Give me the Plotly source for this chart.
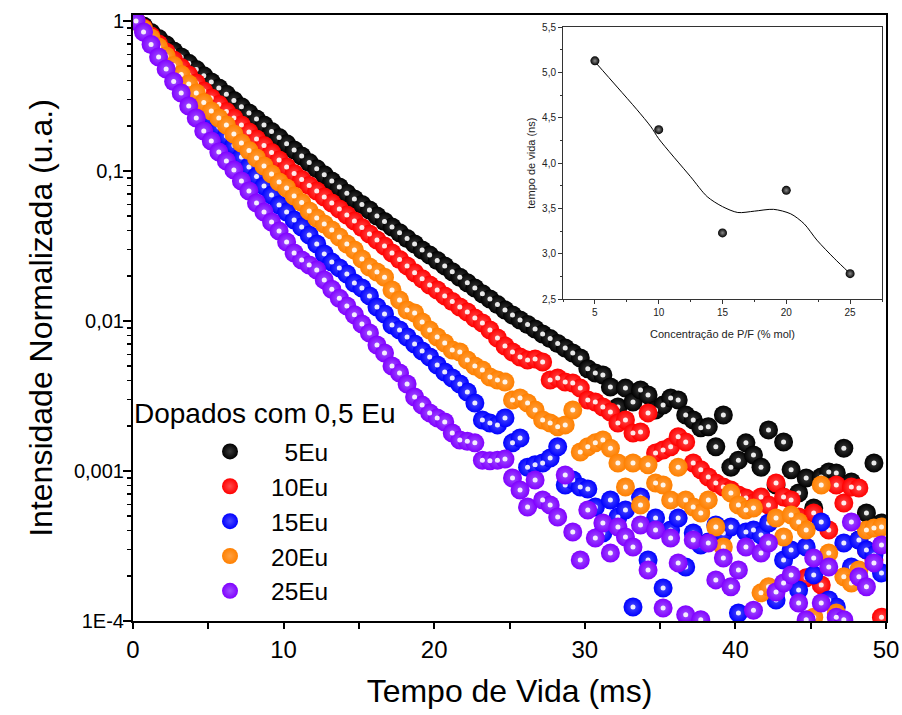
import plotly.graph_objects as go

# ---------------- data ----------------
t_ms = [0.2, 0.7, 1.2, 1.7, 2.2, 2.7, 3.2, 3.7, 4.2, 4.7,
        5.2, 5.7, 6.2, 6.7, 7.2, 7.7, 8.2, 8.7, 9.2, 9.7,
        10.2, 10.7, 11.2, 11.7, 12.2, 12.7, 13.2, 13.7, 14.2, 14.7,
        15.2, 15.7, 16.2, 16.7, 17.2, 17.7, 18.2, 18.7, 19.2, 19.7,
        20.2, 20.7, 21.2, 21.7, 22.2, 22.7, 23.2, 23.7, 24.2, 24.7,
        25.2, 25.7, 26.2, 26.7, 27.2, 27.7, 28.2, 28.7, 29.2, 29.7,
        30.2, 30.7, 31.2, 31.7, 32.2, 32.7, 33.2, 33.7, 34.2, 34.7,
        35.2, 35.7, 36.2, 36.7, 37.2, 37.7, 38.2, 38.7, 39.2, 39.7,
        40.2, 40.7, 41.2, 41.7, 42.2, 42.7, 43.2, 43.7, 44.2, 44.7,
        45.2, 45.7, 46.2, 46.7, 47.2, 47.7, 48.2, 48.7, 49.2, 49.7]

eu5 = [1.0, 0.926, 0.838, 0.764, 0.694, 0.631, 0.575, 0.522, 0.475, 0.432,
       0.392, 0.358, 0.325, 0.295, 0.268, 0.2435, 0.222, 0.2026, 0.1834, 0.167,
       0.1518, 0.138, 0.126, 0.1141, 0.1037, 0.0943, 0.0858, 0.0782, 0.071, 0.0651,
       0.0598, 0.055, 0.0501, 0.046, 0.0423, 0.0387, 0.0355, 0.0326, 0.0297, 0.0275,
       0.0253, 0.0233, 0.0213, 0.0196, 0.018, 0.0166, 0.0152, 0.014, 0.01286, 0.01184,
       0.01096, 0.01015, 0.00948, 0.00885, 0.00819, 0.00763, 0.00708, 0.0066, 0.00612, 0.00567,
       0.0048, 0.0045, 0.00437, 0.00363, 0.00267, 0.00357, 0.00288, 0.00347, 0.00321, 0.00255,
       0.00275, 0.00307, 0.00297, 0.00236, 0.00219, 0.00194, 0.00197, 0.00145, 0.00236, 0.00106,
       0.00118, 0.00154, 0.00128, 0.00106, 0.00188, 0.000806, 0.00156, 0.00102, 0.000713, 0.000898,
       0.000567, 0.000912, 0.000985, 0.00097, 0.00142, 0.000845, 0.000347, 0.000525, 0.00113, 0.00045]

eu10 = [1.0, 0.898, 0.794, 0.702, 0.621, 0.55, 0.49, 0.4365, 0.386, 0.3415,
        0.3067, 0.2775, 0.2492, 0.2256, 0.2026, 0.182, 0.1634, 0.1479, 0.1328, 0.1184,
        0.1063, 0.0962, 0.0877, 0.08, 0.0736, 0.0671, 0.0612, 0.0558, 0.0509, 0.0464,
        0.042, 0.038, 0.0347, 0.0316, 0.0284, 0.0257, 0.0233, 0.021, 0.0191, 0.0174,
        0.0161, 0.0147, 0.0135, 0.0124, 0.01148, 0.01047, 0.0097, 0.00871, 0.0077, 0.00681,
        0.00621, 0.00575, 0.0055, 0.00558, 0.00533, 0.00404, 0.00417, 0.00392, 0.00386, 0.00357,
        0.00297, 0.00288, 0.00267, 0.00247, 0.00209, 0.00219, 0.00179, 0.00182, 0.00244, 0.00132,
        0.00138, 0.00145, 0.00169, 0.00156, 0.00113, 0.00102, 0.000912, 0.000832, 0.000782, 0.000747,
        0.000692, 0.000661, 0.000612, 0.000671, 0.000593, 0.000832, 0.000671, 0.000641, 0.000494, 0.000194,
        0.000525, 0.000174, 0.000404, 0.000806, 0.000612, 0.000782, 0.00077, 0.000297, 0.000255, 0.000106]

eu15 = [1.0, 0.871, 0.747, 0.641, 0.55, 0.4715, 0.407, 0.352, 0.3043, 0.263,
        0.229, 0.1965, 0.171, 0.148, 0.124, 0.1063, 0.0919, 0.0794, 0.0692, 0.0593,
        0.0533, 0.0471, 0.0423, 0.0374, 0.0326, 0.028, 0.0247, 0.0226, 0.0206, 0.0179,
        0.0166, 0.0147, 0.0124, 0.01113, 0.0094, 0.00871, 0.00782, 0.00703, 0.00631, 0.00575,
        0.00509, 0.00457, 0.00417, 0.0038, 0.00336, 0.00284, 0.00219, 0.00209, 0.00203, 0.00226,
        0.00154, 0.00166, 0.00106, 0.0011, 0.00113, 0.00122, 0.00145, 0.000806, 0.000871, 0.000782,
        0.000759, 0.000575, 0.000386, 0.000641, 0.000494, 0.00055, 0.000124, 0.000671, 0.000255, 0.000486,
        0.000166, 0.000404, 0.000486, 0.000229, 0.000386, 0.000321, 0.000336, 0.000437, 0.000386, 0.000423,
        0.000113, 0.000392, 0.000404, 0.000374, 0.00045, 0.000138, 0.000255, 0.000297, 0.000161, 0.000311,
        0.000203, 0.000457, 0.000138, 0.000124, 0.000331, 0.000229, 0.000347, 0.000297, 0.000275, 0.000209]

eu20 = [1.0, 0.884, 0.77, 0.671, 0.584, 0.505, 0.44, 0.38, 0.331, 0.286,
        0.251, 0.2256, 0.2026, 0.1765, 0.1537, 0.137, 0.122, 0.108, 0.0955, 0.0845,
        0.077, 0.0681, 0.0617, 0.0541, 0.0486, 0.0443, 0.0404, 0.0363, 0.0326, 0.0297,
        0.0259, 0.0229, 0.0212, 0.0196, 0.0161, 0.0138, 0.01184, 0.0113, 0.00985, 0.00871,
        0.00782, 0.00713, 0.0064, 0.00621, 0.0055, 0.00501, 0.00471, 0.00423, 0.00404, 0.00392,
        0.00297, 0.00307, 0.00284, 0.00255, 0.00219, 0.00209, 0.00197, 0.00203, 0.00255, 0.00134,
        0.00145, 0.00154, 0.00161, 0.00142, 0.00113, 0.000782, 0.00113, 0.000593, 0.0011, 0.000832,
        0.000806, 0.000641, 0.00106, 0.000641, 0.000575, 0.000525, 0.000641, 0.000423, 0.000311, 0.000713,
        0.000593, 0.00055, 0.000567, 0.000154, 0.000169, 0.000486, 0.000363, 0.000509, 0.000457, 0.000404,
        0.000106, 0.000806, 0.000284, 0.000113, 0.000197, 0.000179, 0.000219, 0.000404, 0.000417, 0.000423]

eu25 = [1.0, 0.845, 0.697, 0.575, 0.479, 0.395, 0.331, 0.271, 0.2256, 0.1848,
        0.1585, 0.1338, 0.1166, 0.1016, 0.0858, 0.0736, 0.0612, 0.0533, 0.0457, 0.0398,
        0.0336, 0.0284, 0.0255, 0.0236, 0.0219, 0.0188, 0.0163, 0.0142, 0.0126, 0.011,
        0.00955, 0.00832, 0.00692, 0.00612, 0.00501, 0.0045, 0.0038, 0.00311, 0.00275, 0.00244,
        0.00226, 0.00212, 0.00179, 0.00161, 0.00158, 0.00154, 0.00118, 0.00117, 0.00118, 0.0012,
        0.000898, 0.000747, 0.000575, 0.000871, 0.000641, 0.000593, 0.000494, 0.00094, 0.000392, 0.000255,
        0.00055, 0.000358, 0.00045, 0.000284, 0.000423, 0.000363, 0.000311, 0.000437, 0.000219, 0.000404,
        0.000122, 0.000358, 0.000244, 0.00011, 0.000347, 0.000102, 0.000331, 0.000188, 0.000263, 0.000169,
        0.000219, 0.000311, 0.000118, 0.000284, 0.000331, 0.000156, 0.000179, 0.000203, 0.000132, 0.000102,
        0.000263, 0.000132, 0.000229, 0.000106, 0.000102, 0.000457, 0.000197, 0.000169, 0.000244, 0.000321]

series_names = ["\u00a0\u00a05Eu", "10Eu", "15Eu", "20Eu", "25Eu"]
series_values = [eu5, eu10, eu15, eu20, eu25]
series_colors = ["#000000", "#ff0000", "#0000ff", "#ff8000", "#8000ff"]
series_glow = ["#3a3a3a", "#ff4a4a", "#4a4aff", "#ffa040", "#a050ff"]

y_tick_vals = [1e-4, 1e-3, 1e-2, 1e-1, 1]
y_tick_text = ["1E-4", "0,001", "0,01", "0,1", "1"]
x_tick_vals = [0, 5, 10, 15, 20, 25, 30, 35, 40, 45, 50]
x_tick_text = ["0", "", "10", "", "20", "", "30", "", "40", "", "50"]

# inset data
conc = [5, 10, 15, 20, 25]
lifetime = [5.13, 4.37, 3.23, 3.70, 2.78]
fit_x = [5, 6.75, 8.3, 9.4, 10, 12.5, 13.8, 15, 16.2, 17.5, 19, 20.35, 21.4, 22.4, 23.75, 25]
fit_y = [5.12, 4.84, 4.59, 4.40, 4.27, 3.85, 3.63, 3.52, 3.455, 3.47, 3.49, 3.44, 3.33, 3.15, 2.95, 2.78]
inset_y_ticks = [2.5, 3.0, 3.5, 4.0, 4.5, 5.0, 5.5]
inset_y_text = ["2,5", "3,0", "3,5", "4,0", "4,5", "5,0", "5,5"]
inset_x_ticks = [5, 10, 15, 20, 25]

# ---------------- figure ----------------
FONT = "Arial, Liberation Sans, sans-serif"
W, H = 902, 715
PL, PR, PT, PB = 133, 886, 15, 621          # plot area in window pixels


def px(xw):
    return (xw - PL) / (PR - PL)


def py(yw):
    return (PB - yw) / (PB - PT)


fig = go.Figure()

for name, vals, col, glow in zip(series_names, series_values, series_colors, series_glow):
    fig.add_trace(go.Scatter(
        x=t_ms, y=vals, mode="markers", name=name,
        marker=dict(size=19, color=col, line=dict(width=0),
                    gradient=dict(type="radial", color=glow)),
        xaxis="x", yaxis="y"))
    fig.add_trace(go.Scatter(
        x=t_ms, y=vals, mode="markers", showlegend=False, hoverinfo="skip",
        marker=dict(size=5, color="rgba(255,255,255,0.9)", line=dict(width=0)),
        xaxis="x", yaxis="y"))

# inset
fig.add_trace(go.Scatter(x=fit_x, y=fit_y, mode="lines",
                         line=dict(color="black", width=1, shape="spline", smoothing=0.8),
                         showlegend=False, xaxis="x2", yaxis="y2"))
fig.add_trace(go.Scatter(x=conc, y=lifetime, mode="markers", showlegend=False,
                         marker=dict(size=9, color="black", line=dict(width=0),
                                     gradient=dict(type="radial", color="#8a8a8a")),
                         xaxis="x2", yaxis="y2"))

minor_y = [m * d for d in [1e-4, 1e-3, 1e-2, 1e-1] for m in range(2, 10)]

fig.update_layout(
    width=W, height=H,
    margin=dict(l=PL, r=W - PR, t=PT, b=H - PB, autoexpand=False),
    paper_bgcolor="white", plot_bgcolor="white",
    font=dict(family=FONT, color="black"),
    hovermode=False,
    showlegend=True,
    legend=dict(x=px(189), y=py(429), xanchor="left", yanchor="top",
                font=dict(size=24.5, family=FONT), itemwidth=72,
                bgcolor="rgba(0,0,0,0)", borderwidth=0, tracegroupgap=0),
    xaxis=dict(range=[0, 50], showline=True, linecolor="black", linewidth=2, mirror=True,
               ticks="outside", ticklen=6, tickwidth=2, tickcolor="black",
               tickvals=x_tick_vals, ticktext=x_tick_text, tickfont=dict(size=24),
               showgrid=False, zeroline=False, automargin=False,
               title=dict(text="Tempo de Vida (ms)", font=dict(size=32), standoff=18)),
    yaxis=dict(type="log", range=[-4, 0.04], showline=True, linecolor="black", linewidth=2, mirror=True,
               ticks="outside", ticklen=8, tickwidth=2, tickcolor="black",
               tickvals=y_tick_vals, ticktext=y_tick_text, tickfont=dict(size=20),
               ticklabelstandoff=-5,
               minor=dict(tickvals=minor_y, ticks="outside", ticklen=4, tickwidth=1.5, tickcolor="black"),
               showgrid=False, zeroline=False, automargin=False,
               title=dict(text="Intensidade Normalizada (u.a.)", font=dict(size=32), standoff=12)),
    xaxis2=dict(domain=[px(563), px(882)], anchor="y2", range=[2.5, 27.5],
                showline=True, linecolor="#333", linewidth=1, mirror=True,
                ticks="outside", ticklen=4, tickwidth=1, tickcolor="#333",
                tickvals=inset_x_ticks, tickfont=dict(size=10, color="#222"),
                minor=dict(dtick=2.5, ticks="outside", ticklen=2, tickcolor="#333"),
                showgrid=False, zeroline=False, automargin=False,
                title=dict(text="Concentração de P/F (% mol)", font=dict(size=11, color="#222"), standoff=13)),
    yaxis2=dict(domain=[py(299), py(27.3)], anchor="x2", range=[2.5, 5.5],
                showline=True, linecolor="#333", linewidth=1, mirror=True,
                ticks="outside", ticklen=4, tickwidth=1, tickcolor="#333",
                tickvals=inset_y_ticks, ticktext=inset_y_text, tickfont=dict(size=10, color="#222"),
                minor=dict(dtick=0.25, ticks="outside", ticklen=2, tickcolor="#333"),
                showgrid=False, zeroline=False, automargin=False,
                title=dict(text="tempo de vida (ns)", font=dict(size=11, color="#222"), standoff=4)),
    annotations=[dict(text="Dopados com 0,5 Eu", xref="paper", yref="paper",
                      x=px(132), y=py(414), xanchor="left", yanchor="middle",
                      showarrow=False, font=dict(size=28, family=FONT))],
)

# remove the browser's default 8 px page margin so the figure sits at the window corner
fig.write_html("out.html",
               config={"displayModeBar": False, "staticPlot": True},
               post_script="document.body.style.margin='0px';document.body.style.overflow='hidden';")
